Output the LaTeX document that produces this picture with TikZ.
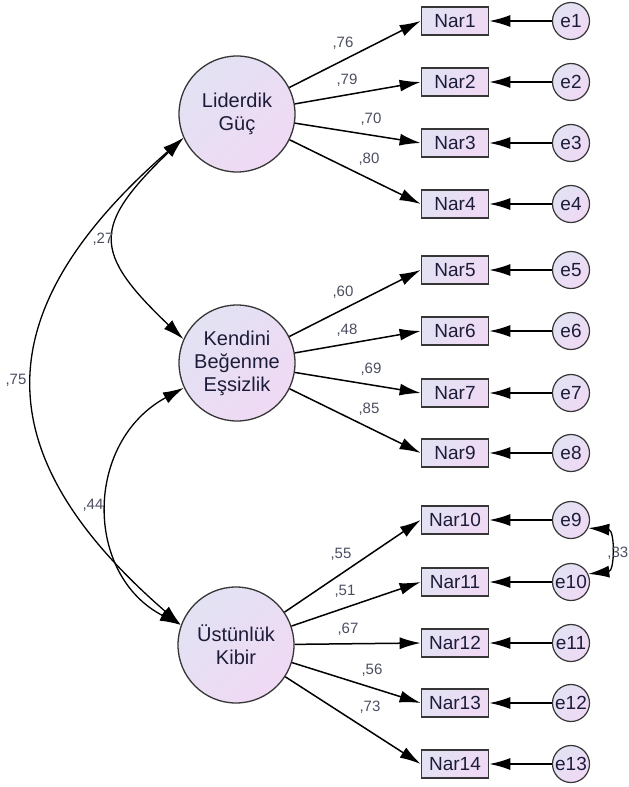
\documentclass[tikz,border=0pt]{standalone}
\usepackage{fontspec}
\setmainfont{Liberation Sans}
\usetikzlibrary{arrows.meta}
\definecolor{semFillA}{HTML}{E2E2F3}
\definecolor{semFillB}{HTML}{F0D9F4}
\definecolor{semLine}{HTML}{363636}
\definecolor{semText}{HTML}{1C1C3A}
\definecolor{coefText}{HTML}{4A4E60}

\tikzset{
  semshade/.style={left color=semFillA,right color=semFillB,shading angle=45},
  latent/.style={circle,draw=semLine,line width=1.3pt,minimum size=116pt,inner sep=0pt,
    semshade,align=center,text=semText,font=\fontsize{20}{23}\selectfont},
  obs/.style={rectangle,draw=semLine,line width=1.7pt,minimum width=67pt,minimum height=28pt,
    inner sep=0pt,semshade,text=semText,font=\fontsize{19}{21}\selectfont},
  err/.style={circle,draw=semLine,line width=1.2pt,minimum size=37pt,inner sep=0pt,
    semshade,text=semText,font=\fontsize{19}{21}\selectfont},
  load/.style={-{Latex[length=21pt,width=12pt]},line width=1.5pt},
  cov/.style={{Latex[length=21pt,width=12pt]}-{Latex[length=21pt,width=12pt]},line width=1.3pt},
  coef/.style={text=coefText,font=\fontsize{15}{15}\selectfont,inner sep=0pt}
}

\begin{document}
\begin{tikzpicture}[x=1pt,y=-1pt]
  \useasboundingbox (0,0) rectangle (629,787);

  % latent factors
  \node[latent] (lid) at (237,114) {Liderdik\\Güç};
  \node[latent] (ken) at (237,363) {Kendini\\Beğenme\\Eşsizlik};
  \node[latent] (ust) at (236,645) {Üstünlük\\Kibir};

  % items and their errors
  \foreach \i/\y/\e in {1/21/1,2/82/2,3/143/3,4/204/4,5/270/5,6/331/6,7/393/7,9/453/8,
                        10/520/9,11/582/10,12/643/11,13/703/12,14/764/13} {
    \node[obs] (n\i) at (455,\y) {Nar\i};
    \node[err] (e\e) at (571,\y) {e\e};
    \draw[load] (e\e) -- (n\i);
  }

  \foreach \f/\i in {lid/1,lid/2,lid/3,lid/4,ken/5,ken/6,ken/7,ken/9,
                     ust/10,ust/11,ust/12,ust/13,ust/14}
    \draw[load] (\f) -- (n\i.west);

  % covariances
  \draw[cov] (lid.204) .. controls (92,226) and (92,252) .. (ken.156);
  \draw[cov] (lid.204) .. controls (-16,312) and (-16,454) .. (ust.160);
  \draw[cov] (ken.205) .. controls (84,442) and (84,575) .. (ust.160);
  \draw[cov] (e9.-25) .. controls (615,530) and (615,571) .. (e10.25);

  % estimates
  \foreach \x/\y/\v in {343/43/76,347/80/79,371/119/70,369/159/80,
                        343/292/60,347/330/48,371/369/69,369/409/85,
                        341/554/55,345/591/51,348/629/67,372/670/56,370/707/73,
                        103/239/27,16/380/75,93/505/44}
    \node[coef] (c\v) at (\x,\y) {,\v};
  \node[coef,anchor=east] (c33) at (628.5,553) {,33};
\end{tikzpicture}
\end{document}
